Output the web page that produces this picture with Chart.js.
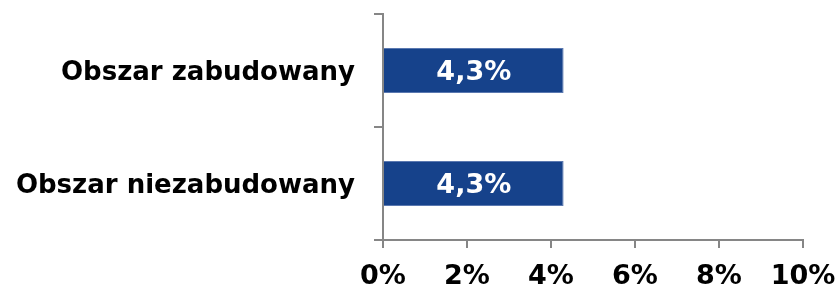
<!DOCTYPE html>
<html>
<head>
<meta charset="utf-8">
<script src="https://cdn.jsdelivr.net/npm/chart.js@4"></script>
<style>
  html, body { margin: 0; padding: 0; background: #fff; }
  #wrap { width: 840px; height: 289px; }
</style>
</head>
<body>
<div id="wrap"><canvas id="chart" width="840" height="289"></canvas></div>
<script>
// Chart data
const categories = ['Obszar zabudowany', 'Obszar niezabudowany'];
const values = [4.3, 4.3];
const tickValues = [0, 2, 4, 6, 8, 10];

const axisColor = '#868686';
const barColor = '#16428B';

// Draw the value labels inside the bars
const barLabels = {
    id: 'barLabels',
    afterDatasetsDraw(chart) {
        const ctx = chart.ctx;
        const meta = chart.getDatasetMeta(0);
        ctx.save();
        ctx.fillStyle = '#ffffff';
        ctx.font = 'bold 27px "DejaVu Sans"';
        ctx.textAlign = 'center';
        ctx.textBaseline = 'middle';
        meta.data.forEach((bar, i) => {
            const cx = (bar.x + bar.base) / 2;
            ctx.fillText(values[i].toFixed(1).replace('.', ',') + '%', cx, bar.y + 2);
        });
        ctx.restore();
    }
};

new Chart(document.getElementById('chart'), {
    type: 'bar',
    data: {
        labels: categories,
        datasets: [{
            data: values,
            backgroundColor: barColor,
            borderColor: '#5a78b0',
            borderWidth: 1,
            barPercentage: 0.5,
            categoryPercentage: 0.8
        }]
    },
    options: {
        indexAxis: 'y',
        responsive: false,
        animation: false,
        layout: { padding: { top: 14, right: 37, left: 0, bottom: 0 } },
        plugins: { legend: { display: false }, tooltip: { enabled: false } },
        scales: {
            x: {
                min: 0,
                max: 10,
                afterBuildTicks: s => { s.ticks = tickValues.map(v => ({ value: v })); },
                afterFit: s => { s.height = 49; s.paddingLeft = 0; s.paddingRight = 0; },
                border: { color: axisColor, width: 2 },
                grid: { drawOnChartArea: false, drawTicks: true, tickLength: 8, color: axisColor, lineWidth: 2 },
                ticks: {
                    color: '#000',
                    font: { family: 'DejaVu Sans', size: 27, weight: 'bold' },
                    padding: 13,
                    maxRotation: 0,
                    callback: v => v + '%'
                }
            },
            y: {
                afterFit: s => { s.width = 383; s.paddingTop = 0; s.paddingBottom = 0; },
                border: { color: axisColor, width: 2 },
                grid: { drawOnChartArea: false, drawTicks: true, tickLength: 9, color: axisColor, lineWidth: 2, offset: true },
                ticks: {
                    color: '#000',
                    font: { family: 'DejaVu Sans', size: 26, weight: 'bold' },
                    padding: 19,
                    labelOffset: 3
                }
            }
        }
    },
    plugins: [barLabels]
});
</script>
</body>
</html>
